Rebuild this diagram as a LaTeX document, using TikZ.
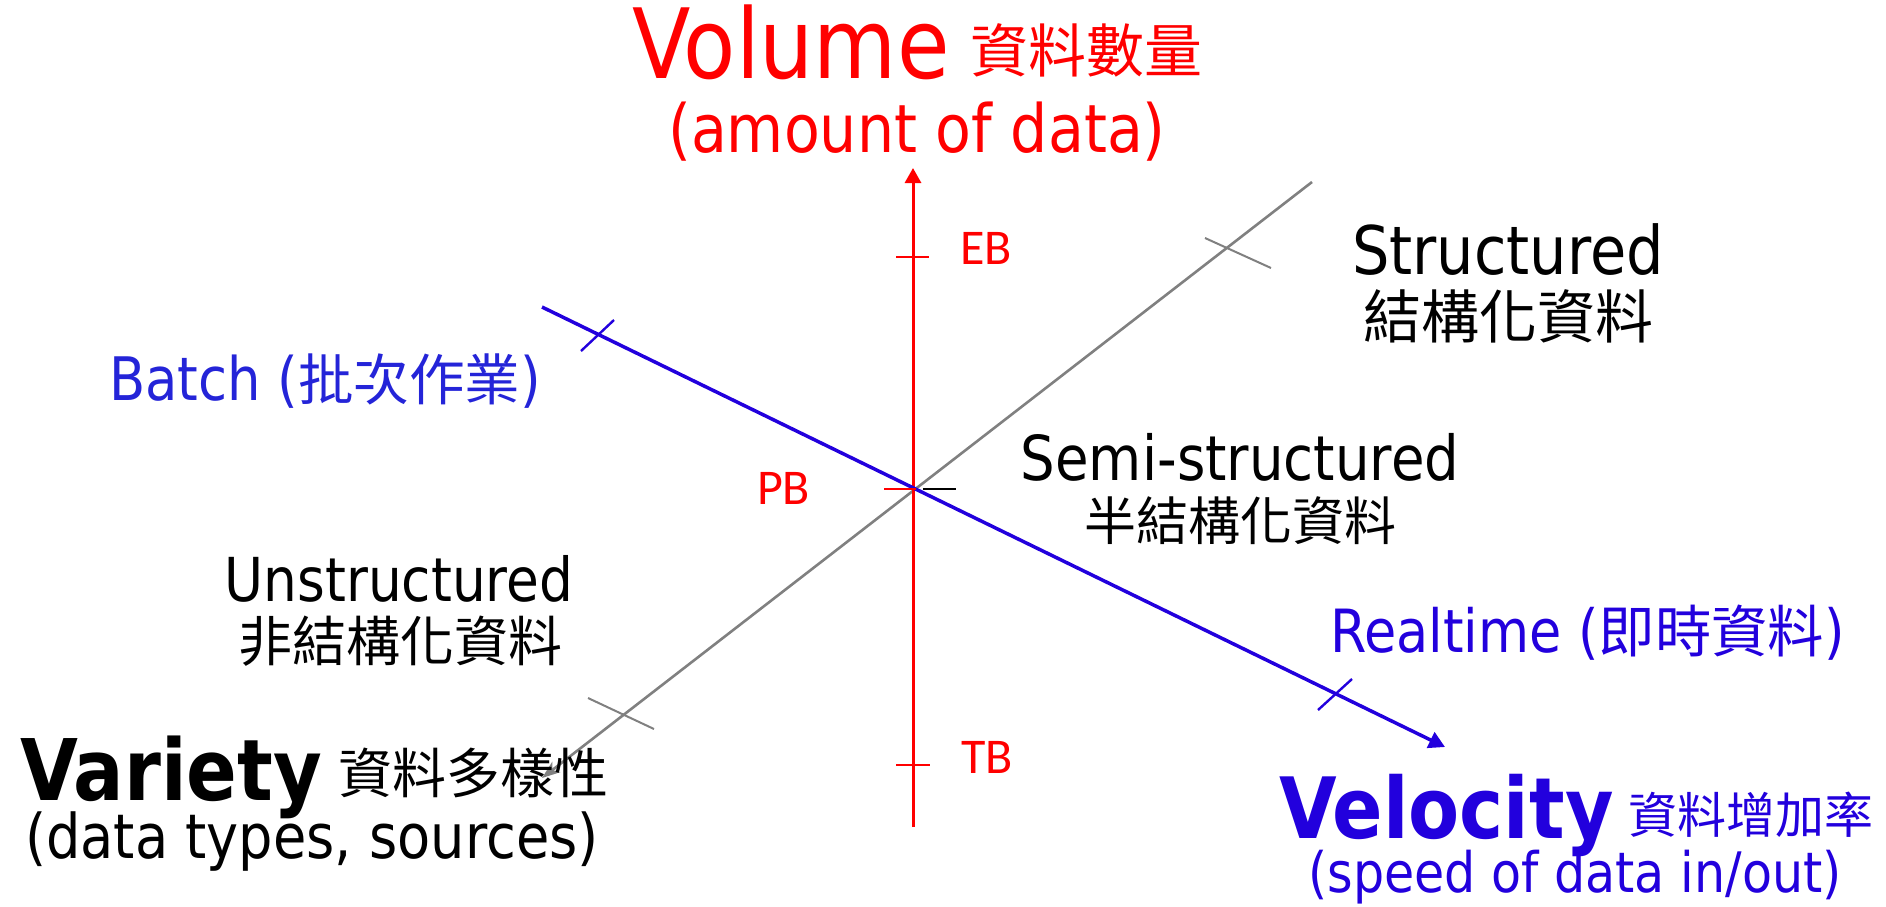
\documentclass[tikz,border=0pt]{standalone}
\usepackage{fontspec}
\setmainfont{DejaVu Sans}[FakeStretch=0.88]
\newfontfamily\cjk{Noto Sans CJK TC}
\newfontfamily\calfont{Carlito}
\usetikzlibrary{arrows.meta}
\definecolor{vred}{RGB}{255,0,0}
\definecolor{vblue}{RGB}{34,0,221}
\definecolor{bblue}{RGB}{36,36,216}
\definecolor{vgray}{RGB}{128,128,128}
\newcommand\setfs[1]{\fontsize{#1}{#1}\selectfont}
\begin{document}
\begin{tikzpicture}[x=0.5pt,y=-0.5pt,
  lbl/.style={inner sep=0pt,outer sep=0pt},
  redax/.style={draw=vred,line width=1.5pt},
  blueax/.style={draw=vblue,line width=1.75pt},
  grayax/.style={draw=vgray,line width=1.3pt},
  tickr/.style={draw=vred,line width=1pt},
  tickg/.style={draw=vgray,line width=1pt},
  tickb/.style={draw=vblue,line width=1.2pt},
  tickk/.style={draw=black,line width=1pt}]
\useasboundingbox (0,0) rectangle (1886,906);
% axis end points
\coordinate (vtop) at (913,168);
\coordinate (vbot) at (913,827);
\coordinate (gtop) at (1312,182);
\coordinate (gtip) at (542,778);
\coordinate (bstart) at (542,307);
\coordinate (btip) at (1445,747);
% ticks
\coordinate (eb1) at (896,257); \coordinate (eb2) at (929,257);
\coordinate (tb1) at (896,765); \coordinate (tb2) at (930,765);
\coordinate (pb1) at (884,489); \coordinate (pb2) at (916,489);
\coordinate (ck1) at (923,489); \coordinate (ck2) at (956,489);
\coordinate (gt1) at (1205,238); \coordinate (gt2) at (1271,268);
\coordinate (gl1) at (588,698); \coordinate (gl2) at (654,729);
\coordinate (bt1) at (581,351); \coordinate (bt2) at (614,320);
\coordinate (bl1) at (1318,710); \coordinate (bl2) at (1352,679);
% axes
\draw[grayax,-{Stealth[length=9pt,width=6.5pt,inset=2.5pt]}] (gtop) -- (gtip);
\draw[redax,-{Triangle[length=7.5pt,width=8pt]}] (vbot) -- (vtop);
\draw[blueax,-{Triangle[length=8pt,width=8.5pt]}] (bstart) -- (btip);
\draw[tickr] (eb1) -- (eb2);
\draw[tickr] (tb1) -- (tb2);
\draw[tickr] (pb1) -- (pb2);
\draw[tickk] (ck1) -- (ck2);
\draw[tickg] (gt1) -- (gt2);
\draw[tickg] (gl1) -- (gl2);
\draw[tickb] (bt1) -- (bt2);
\draw[tickb] (bl1) -- (bl2);
% Volume
\node[lbl,anchor=base west,text=vred] (vol) at (632,78) {\setfs{48.5}Volume};
\node[lbl,anchor=base west,text=vred] (volzh) at (970,72) {\cjk\setfs{29}資料數量};
\node[lbl,anchor=base,text=vred] (amount) at (917,152) {\setfs{33.3}(amount of data)};
\node[lbl,anchor=base west,text=vred] (eb) at (960,264) {\calfont\setfs{25}EB};
\node[lbl,anchor=base west,text=vred] (pb) at (757,504) {\calfont\setfs{25}PB};
\node[lbl,anchor=base west,text=vred] (tb) at (961,773) {\calfont\setfs{25}TB};
% Variety labels
\node[lbl,anchor=base] (struct) at (1508,274) {\setfs{33.5}Structured};
\node[lbl,anchor=base] (structzh) at (1508,338) {\cjk\setfs{29}結構化資料};
\node[lbl,anchor=base] (semi) at (1240,480) {\setfs{31}Semi-structured};
\node[lbl,anchor=base] (semizh) at (1240,540) {\cjk\setfs{26}半結構化資料};
\node[lbl,anchor=base] (unstruct) at (399,601) {\setfs{30.3}Unstructured};
\node[lbl,anchor=base] (unstructzh) at (400,661) {\cjk\setfs{27}非結構化資料};
\node[lbl,anchor=base west] (variety) at (20,800) {\setfs{42.5}\bfseries Variety};
\node[lbl,anchor=base west] (varietyzh) at (338,793) {\cjk\setfs{27}資料多樣性};
\node[lbl,anchor=base] (types) at (312,858) {\setfs{30.8}(data types, sources)};
% Velocity labels
\node[lbl,anchor=base west,text=bblue] (batch) at (109,400) {\setfs{30}Batch ({\cjk\setfs{27.8}批次作業})};
\node[lbl,anchor=base west,text=vblue] (realtime) at (1330,652) {\setfs{29.8}Realtime ({\cjk\setfs{28.2}即時資料})};
\node[lbl,anchor=base west,text=vblue] (velocity) at (1279,838) {\setfs{42.3}\bfseries Velocity};
\node[lbl,anchor=base west,text=vblue] (velocityzh) at (1628,833) {\cjk\setfs{24.5}資料增加率};
\node[lbl,anchor=base,text=vblue] (speed) at (1575,892) {\setfs{27.9}(speed of data in/out)};
\end{tikzpicture}
\end{document}
